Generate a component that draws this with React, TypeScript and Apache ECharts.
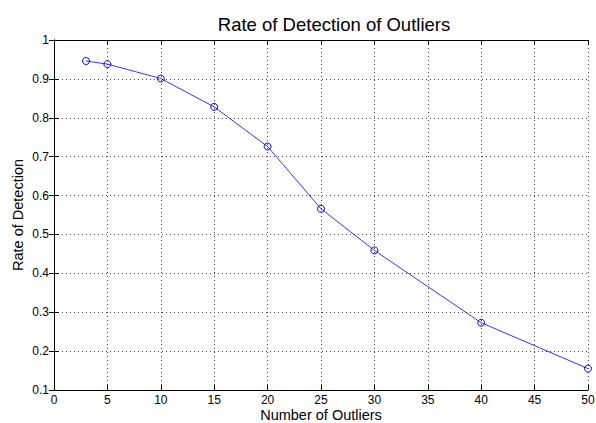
import React, { useEffect, useRef } from "react";
import * as echarts from "echarts";

const titleText = "Rate of Detection of Outliers";
const xName = "Number of Outliers";
const yName = "Rate of Detection";
const outliers = [3, 5, 10, 15, 20, 25, 30, 40, 50];
const detectionRate = [0.946, 0.938, 0.901, 0.828, 0.726, 0.566, 0.459, 0.273, 0.155];

const FONT = "'Liberation Sans', Arial, Helvetica, sans-serif";

export default function App() {
  const ref = useRef<HTMLDivElement>(null);
  useEffect(() => {
    if (!ref.current) return;
    const chart = echarts.init(ref.current, undefined, { renderer: "svg" });
    const grid = { left: 54, top: 40, width: 534, height: 350, containLabel: false, outerBoundsMode: "none" };
    const axisLine = { show: true, lineStyle: { color: "#000", width: 1 } };
    const axisTick = { show: true, inside: true, length: 5, lineStyle: { color: "#000", width: 1 } };
    const fmt = (v: number) => String(+v.toFixed(1));
    chart.setOption({
      animation: false,
      backgroundColor: "#fff",
      textStyle: { fontFamily: FONT },
      title: {
        text: titleText,
        left: 329,
        top: 10,
        textAlign: "center",
        textStyle: { fontFamily: FONT, fontSize: 18.5, fontWeight: "normal", color: "#000" },
      },
      grid,
      xAxis: [
        {
          type: "value",
          min: 0,
          max: 50,
          interval: 5,
          position: "bottom",
          name: xName,
          nameLocation: "middle",
          nameGap: 17,
          nameMoveOverlap: false,
          nameTextStyle: { fontFamily: FONT, fontSize: 14.5, color: "#000", lineHeight: 15 },
          axisLine,
          axisTick,
          axisLabel: { color: "#000", fontSize: 12, fontFamily: FONT, margin: 4 },
          splitLine: { show: true, lineStyle: { color: "#444", type: [1, 3], width: 1 } },
        },
        {
          type: "value",
          min: 0,
          max: 50,
          interval: 5,
          position: "top",
          axisLine,
          axisTick,
          axisLabel: { show: false },
          splitLine: { show: false },
        },
      ],
      yAxis: [
        {
          type: "value",
          min: 0.1,
          max: 1,
          interval: 0.1,
          position: "left",
          name: yName,
          nameLocation: "middle",
          nameGap: 29,
          nameMoveOverlap: false,
          nameRotate: 90,
          nameTextStyle: { fontFamily: FONT, fontSize: 14.5, color: "#000" },
          axisLine,
          axisTick,
          axisLabel: { color: "#000", fontSize: 12, fontFamily: FONT, margin: 5, formatter: fmt },
          splitLine: { show: true, lineStyle: { color: "#444", type: [1, 3], width: 1 } },
        },
        {
          type: "value",
          min: 0.1,
          max: 1,
          interval: 0.1,
          position: "right",
          axisLine,
          axisTick,
          axisLabel: { show: false },
          splitLine: { show: false },
        },
      ],
      series: [
        {
          type: "line",
          data: outliers.map((x, i) => [x, detectionRate[i]]),
          symbol: "circle",
          symbolSize: 7,
          showSymbol: true,
          clip: false,
          lineStyle: { color: "#0000ff", width: 0.8 },
          itemStyle: { color: "rgba(0,0,0,0)", borderColor: "#0000ff", borderWidth: 1 },
          z: 5,
        },
      ],
    });
    return () => chart.dispose();
  }, []);
  return (
    <div
      ref={ref}
      style={{ position: "fixed", left: 0, top: 0, width: 596, height: 423, background: "#fff" }}
    />
  );
}
